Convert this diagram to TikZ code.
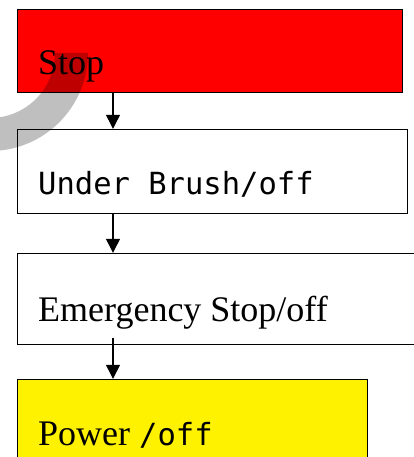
\documentclass[tikz,border=0pt]{standalone}
\usepackage{fontspec}
\setmainfont{Liberation Serif}
\newfontfamily\monofont{DejaVu Sans Mono}
\usetikzlibrary{arrows.meta,calc}
\tikzset{
  box/.style={draw=black, line width=1.2pt, rectangle, inner sep=0pt, anchor=south west},
  label/.style={inner sep=0pt, anchor=base west, font=\fontsize{36}{40}\selectfont},
  flow/.style={line width=1.3pt, -{Triangle[length=14pt,width=14pt]}},
}
\begin{document}
\begin{tikzpicture}[x=1pt,y=1pt]
  \useasboundingbox (0,0) rectangle (414,457);
  \clip (0,0) rectangle (414,457);

  % boxes
  \node[box, fill=red, minimum width=385pt, minimum height=83pt] (stop) at (17,364) {};
  \node[box, fill=white, minimum width=390pt, minimum height=84pt] (brush) at (17,243) {};
  \node[box, fill=white, minimum width=410pt, minimum height=91.5pt] (estop) at (17,111.5) {};
  \node[box, fill=yellow, minimum width=350pt, minimum height=90pt] (power) at (17,-13) {};

  % labels
  \node[label, font=\fontsize{30.5}{36}\monofont] (tbrush) at (38,262) {Under Brush/off};
  \node[label] (tstop) at (38,382) {Stop};
  \node[label] (testop) at (38,135) {Emergency Stop/off};
  \node[label] (tpower) at (38,12) {Power {\fontsize{30.5}{36}\monofont/off}};

  % connectors
  \coordinate (s3) at ($(estop.south west)+(96,7.5)$);
  \draw[flow] ($(stop.south west)+(96,0)$) -- ($(brush.north west)+(96,0)$);
  \draw[flow] ($(brush.south west)+(96,0)$) -- ($(estop.north west)+(96,0)$);
  \draw[flow] (s3) -- ($(power.north west)+(96,0)$);

  % translucent grey ring segment in the upper left corner
  \fill[black, opacity=0.25]
    (55,404) arc[start angle=0, end angle=-110, radius=65]
    -- ($(-10,404)+(-110:98)$) arc[start angle=-110, end angle=0, radius=98] -- cycle;
\end{tikzpicture}
\end{document}
